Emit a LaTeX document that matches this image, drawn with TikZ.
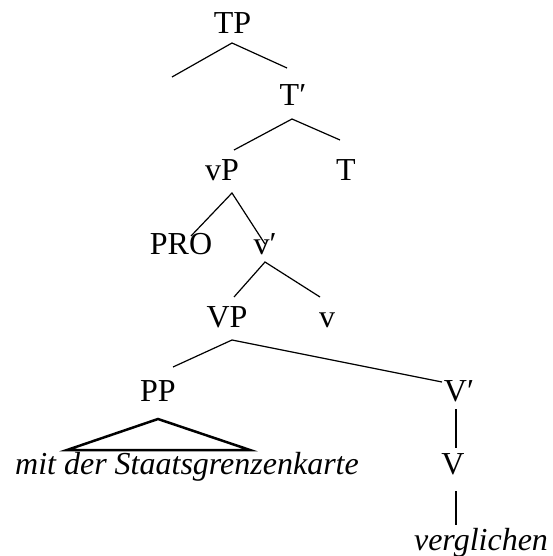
\documentclass[tikz,border=0pt]{standalone}
\usepackage{fontspec}
\setmainfont{Liberation Serif}
\begin{document}
\begin{tikzpicture}[x=1pt,y=-1pt,
  lab/.style={inner sep=0pt,anchor=base,font=\fontsize{32}{32}\selectfont},
  edge/.style={line width=1.2pt},
  tri/.style={line width=2.5pt,line join=miter}]
\useasboundingbox (0,0) rectangle (552,556);
% labels
\node[lab] (TP) at (232.5,34) {TP};
\node[lab] (Tb) at (293,106) {T′};
\node[lab] (vP) at (222,180) {vP};
\node[lab] (T) at (346,180) {T};
\node[lab] (PRO) at (181,254) {PRO};
\node[lab] (vb) at (265,254) {v′};
\node[lab] (VP) at (227,327) {VP};
\node[lab] (v) at (327,327) {v};
\node[lab] (PP) at (158,401) {PP};
\node[lab] (Vb) at (459,401) {V′};
\node[lab] (mit) at (187,474) {\itshape mit der Staatsgrenzenkarte};
\node[lab] (V) at (453,474) {V};
\node[lab] (verg) at (481,550) {\itshape verglichen};
% connector end points
\coordinate (tpA) at (232,43);
\coordinate (tpL) at (172,77);
\coordinate (tpR) at (287,68);
\coordinate (tbA) at (292,119);
\coordinate (tbL) at (234,150);
\coordinate (tbR) at (340,140);
\coordinate (vpA) at (232,193);
\coordinate (vpL) at (191,236);
\coordinate (vpR) at (265,244);
\coordinate (vbA) at (265,262);
\coordinate (vbL) at (234,297);
\coordinate (vbR) at (320,297);
\coordinate (VPA) at (232,340);
\coordinate (VPL) at (173,367);
\coordinate (VPR) at (442,382);
\coordinate (VbT) at (456,409);
\coordinate (VbB) at (456,448);
\coordinate (VT) at (456,491);
\coordinate (VB) at (456,525);
\coordinate (triA) at (158,419);
\coordinate (triL) at (67,450);
\coordinate (triR) at (250,450);
% connectors
\draw[edge] (tpL) -- (tpA) -- (tpR);
\draw[edge] (tbL) -- (tbA) -- (tbR);
\draw[edge] (vpL) -- (vpA) -- (vpR);
\draw[edge] (vbL) -- (vbA) -- (vbR);
\draw[edge] (VPL) -- (VPA) -- (VPR);
\draw[edge] (VbT) -- (VbB);
\draw[edge] (VT) -- (VB);
\draw[tri] (triA) -- (triL) -- (triR) -- cycle;
\end{tikzpicture}
\end{document}
